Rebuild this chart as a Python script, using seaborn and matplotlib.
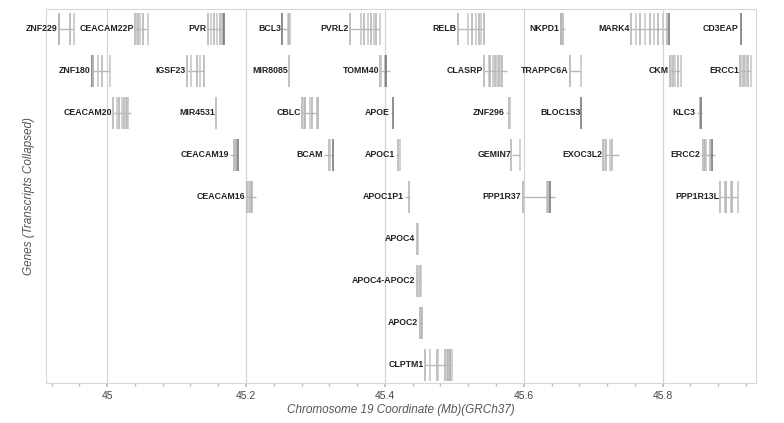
import matplotlib
matplotlib.use("Agg")
import matplotlib.pyplot as plt
from matplotlib.ticker import MultipleLocator
import seaborn as sns
import pandas as pd

sns.set_theme(style="white")
plt.rcParams["font.family"] = ["Liberation Sans", "DejaVu Sans"]

# gene name, row, start (Mb), end (Mb)
genes = ["ZNF229", "CEACAM22P", "PVR", "BCL3", "PVRL2", "RELB", "NKPD1", "MARK4", "CD3EAP",
         "ZNF180", "IGSF23", "MIR8085", "TOMM40", "CLASRP", "TRAPPC6A", "CKM", "ERCC1",
         "CEACAM20", "MIR4531", "CBLC", "APOE", "ZNF296", "BLOC1S3", "KLC3",
         "CEACAM19", "BCAM", "APOC1", "GEMIN7", "EXOC3L2", "ERCC2",
         "CEACAM16", "APOC1P1", "PPP1R37", "PPP1R13L",
         "APOC4", "APOC4-APOC2", "APOC2", "CLPTM1"]
rows = [0] * 9 + [1] * 8 + [2] * 7 + [3] * 6 + [4] * 4 + [5, 6, 7, 8]
starts = [44.930, 45.040, 45.145, 45.252, 45.350, 45.505, 45.653, 45.754, 45.911,
          44.978, 45.115, 45.262, 45.393, 45.542, 45.666, 45.810, 45.911,
          45.009, 45.157, 45.281, 45.409, 45.574, 45.683, 45.849,
          45.177, 45.312, 45.416, 45.583, 45.714, 45.855,
          45.201, 45.429, 45.597, 45.883,
          45.445, 45.445, 45.449, 45.458]
ends = [44.953, 45.059, 45.168, 45.263, 45.393, 45.542, 45.660, 45.809, 45.914,
        45.004, 45.140, 45.262, 45.407, 45.576, 45.682, 45.826, 45.927,
        45.035, 45.157, 45.304, 45.411, 45.580, 45.683, 45.857,
        45.188, 45.325, 45.421, 45.594, 45.737, 45.875,
        45.214, 45.436, 45.645, 45.909,
        45.447, 45.452, 45.453, 45.496]
exons = [
    [44.930, 44.931, 44.946, 44.953],
    [45.040, 45.042, 45.045, 45.047, 45.052, 45.059],
    [45.145, 45.150, 45.154, 45.158, 45.162, 45.165, 45.167, 45.168],
    [45.252, 45.261, 45.262, 45.263],
    [45.350, 45.366, 45.370, 45.376, 45.380, 45.384, 45.387, 45.393],
    [45.505, 45.520, 45.526, 45.531, 45.535, 45.538, 45.542],
    [45.653, 45.654, 45.656],
    [45.754, 45.762, 45.767, 45.775, 45.781, 45.788, 45.793, 45.801, 45.806, 45.809],
    [45.913],
    [44.978, 44.979, 44.980, 44.987, 44.993, 45.004],
    [45.115, 45.121, 45.129, 45.133, 45.140],
    [45.262],
    [45.393, 45.395, 45.400, 45.402],
    [45.542, 45.550, 45.552, 45.555, 45.559, 45.562, 45.564, 45.566, 45.568],
    [45.666, 45.682],
    [45.810, 45.812, 45.815, 45.818, 45.822, 45.826],
    [45.911, 45.914, 45.917, 45.920, 45.923, 45.927],
    [45.009, 45.014, 45.017, 45.021, 45.024, 45.027, 45.029, 45.030],
    [45.157],
    [45.281, 45.283, 45.285, 45.292, 45.295, 45.302, 45.304],
    [45.411],
    [45.578, 45.580],
    [45.683],
    [45.853, 45.854, 45.855],
    [45.183, 45.185, 45.186, 45.188],
    [45.319, 45.321, 45.325],
    [45.419, 45.421],
    [45.582, 45.594],
    [45.714, 45.716, 45.719, 45.724, 45.727],
    [45.858, 45.859, 45.861, 45.863, 45.868, 45.871],
    [45.201, 45.203, 45.205, 45.207, 45.209],
    [45.435],
    [45.599, 45.633, 45.635, 45.637],
    [45.883, 45.889, 45.891, 45.898, 45.900, 45.909],
    [45.446, 45.447],
    [45.446, 45.448, 45.450, 45.452],
    [45.450, 45.452, 45.453],
    [45.458, 45.465, 45.475, 45.477, 45.487, 45.489, 45.491, 45.493, 45.494, 45.496],
]
# darker exons (first gene index -> dark positions)
dark_genes = ["ZNF229", "PVR", "BCL3", "NKPD1", "MARK4", "CD3EAP", "ZNF180", "TOMM40",
              "APOE", "BLOC1S3", "KLC3", "BCAM", "CEACAM19", "ERCC2", "PPP1R37"]

ticks = [45.0, 45.2, 45.4, 45.6, 45.8]

df = pd.DataFrame({"gene": genes, "row": rows, "start": starts, "end": ends})

fig = plt.figure(figsize=(7.84, 4.23), dpi=100)
ax = fig.add_axes([0.0587, 0.0946, 0.9053, 0.8844])

for t in ticks:
    ax.axvline(t, color="#d4d4d4", lw=0.9, zorder=0)

h = 0.38
for i, r in df.iterrows():
    y = r["row"]
    ax.hlines(y, r["start"], r["end"], color="#b8b8b8", lw=1.0, zorder=2)
    ex = exons[i]
    for j, e in enumerate(ex):
        c = "#c4c4c4" if j % 2 else "#b0b0b0"
        if r["gene"] in dark_genes and j == (0 if r["gene"] in ("ZNF229", "ZNF180", "NKPD1", "BCL3") else len(ex) - 1):
            c = "#707070"
        ax.vlines(e, y - h, y + h, color=c, lw=1.1, zorder=3)
    ax.text(r["start"] - 0.0015, y, r["gene"], ha="right", va="center",
            fontsize=6.3, fontweight="bold", color="#222222", zorder=4)

ax.set_xlim(44.912, 45.934)
ax.set_ylim(8.43, -0.476)
ax.set_xticks(ticks)
ax.set_xticklabels(["45", "45.2", "45.4", "45.6", "45.8"], fontsize=7.5, color="#444444")
ax.xaxis.set_minor_locator(MultipleLocator(0.04))
ax.tick_params(axis="x", which="both", bottom=True, direction="out", length=3,
               color="#bbbbbb", pad=3)
ax.tick_params(axis="x", which="minor", length=2)
ax.set_yticks([])
for s in ax.spines.values():
    s.set_color("#d8d8d8")
    s.set_linewidth(0.8)
ax.set_xlabel("Chromosome 19 Coordinate (Mb)(GRCh37)", fontsize=8.5, style="italic",
              color="#555555", labelpad=2)
ax.set_ylabel("Genes (Transcripts Collapsed)", fontsize=8.5, style="italic",
              color="#555555", labelpad=8)

fig.savefig("out.png", dpi=100)
